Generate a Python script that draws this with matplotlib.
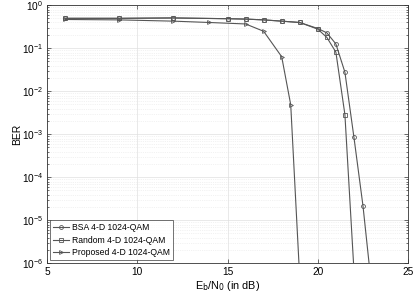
import matplotlib
matplotlib.use("Agg")
import matplotlib.pyplot as plt
from matplotlib.ticker import NullFormatter, FixedLocator

plt.rcParams['font.family'] = ['Liberation Sans', 'DejaVu Sans']

x_bsa = [6, 9, 12, 15, 16, 17, 18, 19, 20, 20.5, 21, 21.5, 22, 22.5, 23]
y_bsa = [0.50, 0.50, 0.51, 0.49, 0.48, 0.46, 0.43, 0.40, 0.29, 0.23, 0.127, 0.028, 8.6e-4, 2.2e-5, 2.3e-7]

x_rand = [6, 9, 12, 15, 16, 17, 18, 19, 20, 20.5, 21, 21.5, 22]
y_rand = [0.50, 0.50, 0.51, 0.49, 0.48, 0.46, 0.43, 0.40, 0.28, 0.18, 0.082, 0.0029, 7e-7]

x_prop = [6, 9, 12, 14, 16, 17, 18, 18.5, 19]
y_prop = [0.47, 0.46, 0.43, 0.40, 0.37, 0.25, 0.064, 0.0049, 4.4e-7]

labels = ['BSA 4-D 1024-QAM', 'Random 4-D 1024-QAM', 'Proposed 4-D 1024-QAM']
xticks = [5, 10, 15, 20, 25]
yticks = [1e-6, 1e-5, 1e-4, 1e-3, 1e-2, 1e-1, 1e0]

fig = plt.figure(figsize=(4.19, 2.99), dpi=100)
ax = fig.add_axes([0.112, 0.119, 0.862, 0.863])

lc = '#555555'
kw = dict(color=lc, lw=0.8, markersize=2.8, markerfacecolor='none', markeredgewidth=0.6)
ax.semilogy(x_bsa, y_bsa, marker='o', label=labels[0], **kw)
ax.semilogy(x_rand, y_rand, marker='s', label=labels[1], **kw)
ax.semilogy(x_prop, y_prop, marker='>', label=labels[2], **kw)

ax.set_xlim(5, 25)
ax.set_ylim(1e-6, 1)
ax.set_xticks(xticks)
ax.set_xticklabels([str(t) for t in xticks])
ax.yaxis.set_major_locator(FixedLocator(yticks))
minors = [m * 10.0 ** e for e in range(-6, 0) for m in range(2, 10)]
ax.yaxis.set_minor_locator(FixedLocator(minors))
ax.yaxis.set_minor_formatter(NullFormatter())
ax.grid(True, which='major', color='#e0e0e0', lw=0.5, ls='-')
ax.grid(True, which='minor', axis='y', color='#e6e6e6', lw=0.5, ls=':')
ax.tick_params(which='both', direction='in', top=True, right=True, labelsize=7.3, color='#333333', width=0.5, pad=2.5)
ax.tick_params(which='major', length=3)
ax.tick_params(which='minor', length=1.5)
for s in ax.spines.values():
    s.set_color('#333333')
    s.set_linewidth(0.6)

ax.set_xlabel(r'E$_\mathrm{b}$/N$_\mathrm{0}$ (in dB)', fontsize=7.8, labelpad=1.5)
ax.set_ylabel('BER', fontsize=7.5, labelpad=0)

leg = ax.legend(loc='lower left', fontsize=6.2, frameon=True, fancybox=False,
                borderpad=0.35, labelspacing=0.45, handlelength=1.9, handletextpad=0.3,
                borderaxespad=0.35)
leg.get_frame().set_edgecolor('#333333')
leg.get_frame().set_linewidth(0.6)

fig.savefig('out.png', dpi=100)
